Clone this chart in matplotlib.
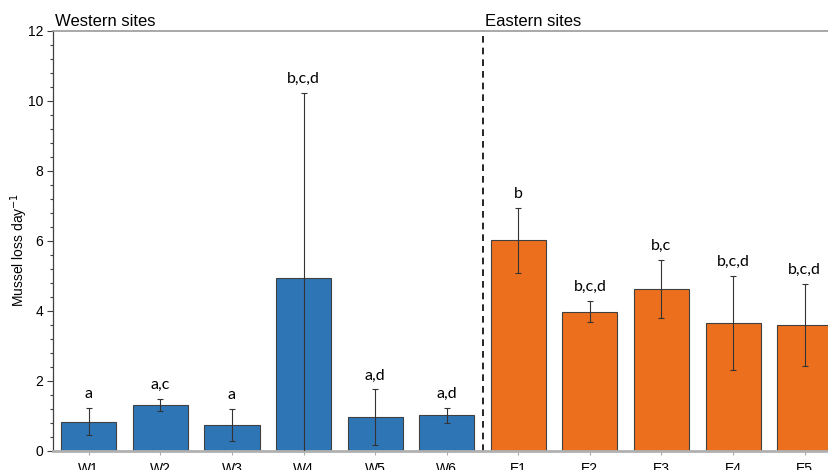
import matplotlib.pyplot as plt
import numpy as np
from matplotlib.ticker import MultipleLocator

sites = ['W1', 'W2', 'W3', 'W4', 'W5', 'W6', 'E1', 'E2', 'E3', 'E4', 'E5']
loss = [0.84, 1.31, 0.74, 4.94, 0.97, 1.02, 6.02, 3.98, 4.63, 3.66, 3.60]
err = [0.39, 0.18, 0.46, 5.29, 0.79, 0.22, 0.92, 0.30, 0.82, 1.35, 1.18]
groups = ['a', 'a,c', 'a', 'b,c,d', 'a,d', 'a,d', 'b', 'b,c,d', 'b,c', 'b,c,d', 'b,c,d']

blue = '#2E75B6'
orange = '#EC6F1E'
colors = [blue] * 6 + [orange] * 5

fig = plt.figure(figsize=(8.29, 4.70), dpi=100)
ax = fig.add_axes([53 / 829, 19 / 470, 1 - 53 / 829, 420 / 470])

x = np.arange(len(sites))
ax.bar(x, loss, width=0.77, color=colors, edgecolor='#404040', linewidth=0.8, zorder=2)
ax.errorbar(x, loss, yerr=err, fmt='none', ecolor='#333333', elinewidth=0.8,
            capsize=2.5, capthick=0.8, zorder=3)

# significance letters above each error bar
for xi, v, e, g in zip(x, loss, err, groups):
    ax.text(xi, v + e + 0.2, g, ha='center', va='bottom', fontsize=11.5,
            family='Lato', color='black')

ax.axvline(5.5, color='black', linestyle=(0, (4, 3)), linewidth=1.2)

ax.set_xlim(-0.5, 10.34)
ax.set_ylim(0, 12)
ax.set_xticks(x)
ax.set_xticklabels(sites, fontsize=10, family='Liberation Sans')
ax.yaxis.set_major_locator(MultipleLocator(2))
ax.yaxis.set_minor_locator(MultipleLocator(0.4))
ax.tick_params(axis='y', which='major', length=4, width=0.8, color='#404040',
               labelsize=10, pad=3)
ax.tick_params(axis='y', which='minor', length=2.5, width=0.8, color='#404040')
ax.tick_params(axis='x', length=3, width=0.8, color='#aaaaaa', pad=5)
for lab in ax.get_yticklabels():
    lab.set_family('Liberation Sans')

ax.spines['right'].set_visible(False)
ax.spines['left'].set_color('#404040')
ax.spines['left'].set_linewidth(0.9)
ax.spines['top'].set_color('#999999')
ax.spines['top'].set_linewidth(1.2)
ax.spines['bottom'].set_color('#b0b0b0')
ax.spines['bottom'].set_linewidth(2)

ax.set_ylabel('Mussel loss day$^{-1}$', fontsize=10, family='Liberation Sans')
ax.yaxis.set_label_coords(-0.030, 0.48)

ax.text(0.002, 1.005, 'Western sites', transform=ax.transAxes, fontsize=12,
        family='Liberation Sans', ha='left', va='bottom')
ax.text(5.53, 12.05, 'Eastern sites', fontsize=12, family='Liberation Sans',
        ha='left', va='bottom')

fig.savefig('out.png', dpi=100)
